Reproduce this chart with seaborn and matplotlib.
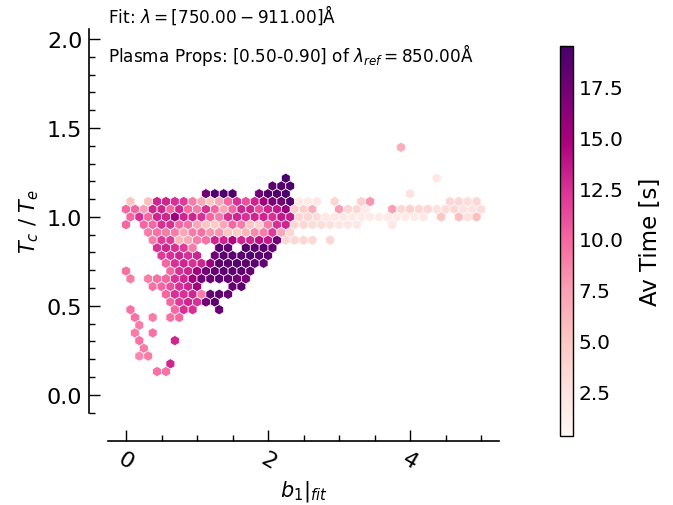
import numpy as np
import pandas as pd
import matplotlib
matplotlib.use("Agg")
import matplotlib.pyplot as plt
import seaborn as sns
from matplotlib.ticker import MultipleLocator

sns.set_style("white")
plt.rcParams['font.family'] = ['DejaVu Sans']
plt.rcParams['text.color'] = 'black'
plt.rcParams['axes.labelcolor'] = 'black'
plt.rcParams['xtick.color'] = 'black'
plt.rcParams['ytick.color'] = 'black'

# ---- data: hexbin cells (row index on the half-row grid, first column, mean times) ----
GRID = 40
EXTENT = (0.0, 5.0, 0.0, 2.0)

row_level = [32, 28, 28, 27, 26, 26, 26,
             25, 25, 25, 24, 24, 23, 23, 22, 22,
             21, 21, 20, 20, 19, 18, 17, 16, 16,
             15, 15, 15, 14, 13, 12, 11, 11,
             10, 9, 8, 7, 6, 5, 4, 3]
row_start = [31, 18, 35, 16, 9, 15, 32,
             0, 19, 36, 0, 19, 0, 19, 0, 19,
             2, 18, 3, 18, 3, 4, 4, 0, 5,
             0, 2, 4, 3, 4, 5, 0, 5,
             1, 1, 1, 1, 2, 1, 5, 3]
row_times = [
    [6.5],
    [19.3],
    [2.0],
    [18.5, 19.0, 19.3],
    [17.5, 19.0, 19.0, 19.0],
    [17.5, 19.0, 19.0, 19.3],
    [2.5],
    [5.0, None, 5.5, 13.0, 13.0, 12.5, 12.0, 9.0, 7.0, 5.0, 7.0, 10.0, 12.5, 11.0, 13.0, 15.0, 17.0, 17.5, 19.0],
    [1.5, 1.5, 2.0, None, 3.5, None, None, 4.0, 8.0],
    [3.5, 3.5, 3.0, 3.5],
    [10.0, 10.0, 7.5, 13.0, 13.0, 10.0, 13.0, 10.0, 9.0, 12.5, 10.0, 7.0, 10.0, 13.0, 13.0, 11.0, 13.0, 13.5, 15.5],
    [4.0, 4.0, 6.5, None, None, 7.5, 3.5, 3.5, 1.5, None, None, 7.5, 3.5, 4.0, 3.5, 3.5, 2.5, 3.0, 3.5, 2.5, 2.5, 3.0],
    [10.0, 12.5, 10.0, 13.0, 13.0, 15.5, 13.0, 13.0, 12.5, 10.0, 9.0, 12.5, 13.0, 12.5, 13.0, 13.0, 12.5, 13.5, 13.5],
    [3.5, 3.5, 3.0, 2.0, 2.0, 2.0, 1.5, 1.5, 1.5, 1.5, 1.5, 1.5, 1.5, 1.5, 2.0, None, 5.0, None, 5.5, 2.5, 5.5],
    [10.0, None, 10.0, 10.0, 12.5, 12.5, 10.0, 9.5, 7.0, 5.0, 4.5, 7.0, 10.0, 9.0, 5.0, 4.0, 9.0, 12.5, 13.0],
    [3.5, 3.5, 3.0, 3.0, 2.5, 2.0, 2.0, 2.0, None, None, None, 2.0],
    [9.0, 9.5, 9.0, 9.0, 7.0, 9.0, 9.5, 8.0, 8.0, 5.0, 4.5, 6.0, 8.5, 9.0, 12.0, 7.0],
    [3.5],
    [9.0, 12.0, 12.0, 6.0, 7.0, 9.0, 9.5, 13.0, 13.0, 14.5, 13.0, 13.0, 14.0, 13.5, 17.5],
    [3.5, 3.5, 3.5, 3.5, None, 3.5],
    [12.5, 13.0, 12.5, 12.0, 9.0, None, None, 18.5, 18.0, None, 19.0, 18.5, 18.5, 18.0],
    [12.0, 12.5, 13.0, 12.5, 13.0, None, 17.5, 18.5, 18.5, 18.5, 19.0, 18.5, 18.5],
    [10.0, 12.5, 13.0, 12.5, 13.0, 15.5, 18.5, 18.5, 19.0, 18.5, 18.5, 18.0],
    [9.5],
    [10.0, 12.5, 13.0, 15.0, 17.5, 18.0, 18.5, 18.5, 18.5, 18.0],
    [9.0],
    [9.0, 9.5],
    [10.0, 12.5, 13.0, 15.0, 17.5, 18.0, 18.5, 18.0, 17.5, 17.0],
    [9.5, 10.0, 11.0, 12.5, 13.0, 15.0, None, None, None, 18.0, 18.5],
    [10.0, 12.5, 12.5, 13.0, 9.0, 18.0, 18.5, 18.0],
    [10.0, 12.0, 13.0, 12.5, 17.5, 18.5],
    [9.5],
    [10.0, 12.5, 12.5, None, None, 18.0],
    [9.5, None, 9.0, None, 9.5, 10.0],
    [9.0],
    [9.0, None, 9.5],
    [9.5, None, None, None, 13.0],
    [9.0],
    [8.5, 9.0],
    [13.0],
    [9.5, 9.5],
]

# ---- expand rows into cell records ----
xmin, xmax, ymin, ymax = EXTENT
ny = int(GRID / np.sqrt(3))
sx = (xmax - xmin) / GRID
sy = (ymax - ymin) / ny
recs = []
for h, i0, vals in zip(row_level, row_start, row_times):
    shift = 0.5 if h % 2 else 0.0
    for k, v in enumerate(vals):
        if v is None:
            continue
        recs.append((xmin + (i0 + k + shift) * sx, ymin + h * sy / 2, v))
df = pd.DataFrame(recs, columns=["b1", "tc_te", "av_time"])

fig = plt.figure(figsize=(6.73, 5.06), dpi=100)
ax = fig.add_axes([0.1609, 0.1828, 0.5802, 0.7579])
hb = ax.hexbin(df["b1"], df["tc_te"], C=df["av_time"], reduce_C_function=np.mean,
               gridsize=GRID, extent=EXTENT, cmap="RdPu", vmin=0.3, vmax=19.5,
               edgecolors="white", linewidths=0.5)
ax.set_xlim(-0.25, 5.25)
ax.set_ylim(-0.1, 2.057)

sns.despine(ax=ax, offset={"left": 13.7, "bottom": 20.7})
for s in ["left", "bottom"]:
    ax.spines[s].set_linewidth(1.2)
    ax.spines[s].set_color("black")

ax.xaxis.set_major_locator(MultipleLocator(2))
ax.xaxis.set_minor_locator(MultipleLocator(0.5))
ax.yaxis.set_major_locator(MultipleLocator(0.5))
ax.yaxis.set_minor_locator(MultipleLocator(0.1))
ax.tick_params(which="both", direction="in", width=1.0, colors="black",
               bottom=True, left=True, top=False, right=False)
ax.tick_params(which="major", length=7.7, labelsize=16, pad=5)
ax.tick_params(which="minor", length=4)
for lab in ax.get_xticklabels():
    lab.set_rotation(-30)

ax.set_xlabel(r"$b_1|_{fit}$", fontsize=15)
ax.set_ylabel(r"$T_c\ /\ T_e$", fontsize=15)

fig.text(108 / 673, 1 - 15 / 506, r"Fit: $\lambda = [750.00 - 911.00]$Å", fontsize=12.2,
         ha="left", va="center")
fig.text(108 / 673, 1 - 55 / 506, r"Plasma Props: [0.50-0.90] of $\lambda_{ref} = 850.00$Å",
         fontsize=12.2, ha="left", va="center")

cax = fig.add_axes([560 / 673, (506 - 436.7) / 506, 13.3 / 673, 389.4 / 506])
cb = fig.colorbar(hb, cax=cax)
cb.set_ticks([2.5, 5, 7.5, 10, 12.5, 15, 17.5])
cb.ax.yaxis.set_minor_locator(MultipleLocator(0.5))
cb.ax.tick_params(which="both", direction="in", colors="black",
                  left=True, right=False, labelleft=False, labelright=True)
cb.ax.tick_params(which="major", length=9.6, width=1, labelsize=14.5, pad=4)
cb.ax.tick_params(which="minor", length=3.6, width=0.8)
cb.outline.set_linewidth(1.0)
cb.outline.set_edgecolor("black")
cb.set_label("Av Time [s]", fontsize=16.5, labelpad=11)

fig.savefig("out.png", dpi=100)
